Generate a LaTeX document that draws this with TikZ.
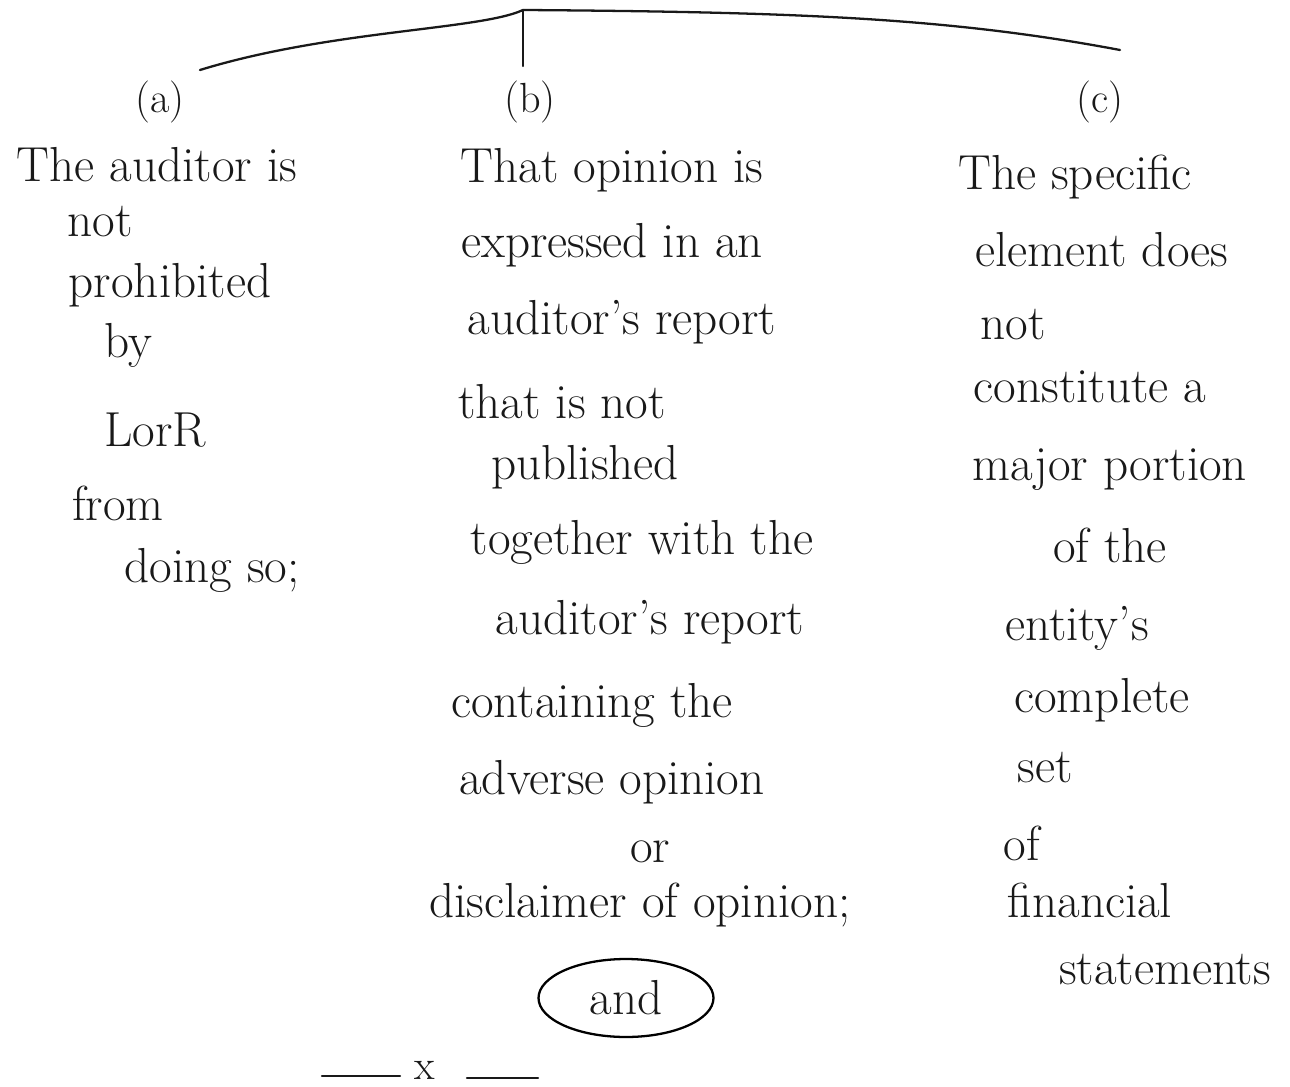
\documentclass[tikz,border=0pt]{standalone}
\usetikzlibrary{shapes.geometric}
\begin{document}
\begin{tikzpicture}[x=0.02cm,y=-0.02cm,
  hw/.style={font=\fontsize{28}{30}\selectfont, inner sep=1pt, text=black!90},
  lbl/.style={font=\fontsize{24}{26}\selectfont, inner sep=1pt, text=black!90},
  stroke/.style={line width=1.3pt, black!90, line cap=round}]
\useasboundingbox (0,0) rectangle (1290,1087);
% branching lines
\coordinate (top) at (523,10);
\coordinate (aend) at (200,70);
\coordinate (bend) at (523,66);
\coordinate (cend) at (1120,50);
\draw[stroke] (aend) .. controls (330,30) and (480,30) .. (top);
\draw[stroke] (top) .. controls (800,12) and (950,18) .. (cend);
\draw[stroke] (top) -- (bend);
% labels
\node[lbl] (la) at (160,102) {(a)};
\node[lbl] (lb) at (530,102) {(b)};
\node[lbl] (lc) at (1100,102) {(c)};
% column a
\node[hw] (a1) at (157,165) {The auditor is};
\node[hw] (a2) at (100,222) {not};
\node[hw] (a3) at (170,285) {prohibited};
\node[hw] (a4) at (128,345) {by};
\node[hw] (a5) at (155,430) {LorR};
\node[hw] (a6) at (118,503) {from};
\node[hw] (a7) at (212,570) {doing so;};
% column b
\node[hw] (b1) at (612,170) {That opinion is};
\node[hw] (b2) at (612,245) {expressed in an};
\node[hw] (b3) at (622,322) {auditor's report};
\node[hw] (b4) at (562,402) {that is not};
\node[hw] (b5) at (585,467) {published};
\node[hw] (b6) at (642,542) {together with the};
\node[hw] (b7) at (650,622) {auditor's report};
\node[hw] (b8) at (592,705) {containing the};
\node[hw] (b9) at (612,782) {adverse opinion};
\node[hw] (b10) at (650,852) {or};
\node[hw] (b11) at (640,905) {disclaimer of opinion;};
\node[hw, draw, ellipse, line width=1.3pt, minimum width=3.5cm, minimum height=1.56cm] (and) at (626,998) {and};
% column c
\node[hw] (c1) at (1075,177) {The specific};
\node[hw] (c2) at (1102,250) {element does};
\node[hw] (c3) at (1013,325) {not};
\node[hw] (c4) at (1090,387) {constitute a};
\node[hw] (c5) at (1110,470) {major portion};
\node[hw] (c6) at (1110,545) {of the};
\node[hw] (c7) at (1077,628) {entity's};
\node[hw] (c8) at (1102,700) {complete};
\node[hw] (c9) at (1045,768) {set};
\node[hw] (c10) at (1022,843) {of};
\node[hw] (c11) at (1090,900) {financial};
\node[hw] (c12) at (1165,970) {statements};
% end mark
\node[lbl] (x) at (425,1070) {x};
\coordinate (l1) at (322,1076);
\coordinate (l2) at (400,1076);
\coordinate (r1) at (467,1078);
\coordinate (r2) at (538,1078);
\draw[stroke] (l1) -- (l2);
\draw[stroke] (r1) -- (r2);
\end{tikzpicture}
\end{document}
